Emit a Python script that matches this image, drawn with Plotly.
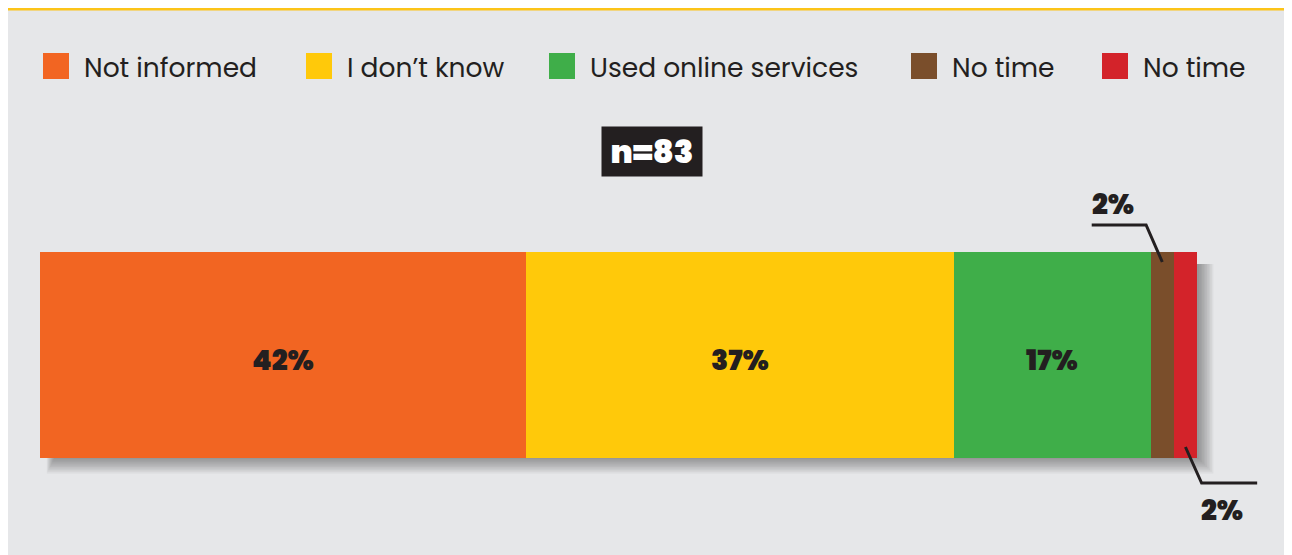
import plotly.graph_objects as go

# Survey answers (share of respondents, %)
categories = ["Not informed", "I don’t know", "Used online services", "No time", "No time"]
values = [42, 37, 17, 2, 2]
colors = ["#f26522", "#ffc90a", "#3fae49", "#7a4e2b", "#d3232a"]
sample_label = "n=83"

# Figure geometry (pixels); the page adds an 8px body margin
BODY = 8
W, H = 1292 - BODY, 555 - BODY
ML, MR, MT, MB = 32, 0, 244, 97
PW, PH = W - ML - MR, H - MT - MB
PX_PER_UNIT = 11.57  # 100 % of the bar = 1157 px

DARK = "#231f20"
BG = "#e6e7e9"
LABEL_FONT = dict(family="Poppins, Roboto, sans-serif", size=28, color=DARK, weight=900)


# helpers: page pixel -> paper coordinate
def px_x(px):
    return (px - BODY - ML) / PW


def px_y(py):
    return (H - MB - (py - BODY)) / PH


fig = go.Figure()

# Stacked horizontal bar, one trace per answer
for cat, val, col in zip(categories, values, colors):
    fig.add_trace(go.Bar(
        x=[val], y=[0], orientation="h", width=1, name=cat,
        marker=dict(color=col, line=dict(width=0)),
        hoverinfo="skip", showlegend=False,
    ))

starts = [sum(values[:i]) for i in range(len(values))]
annotations = []
shapes = []

# percentage labels inside the wide segments
for s, val in zip(starts, values):
    if val >= 5:
        annotations.append(dict(x=s + val / 2, y=0, xref="x", yref="y",
                                text=f"{val}%", showarrow=False, yshift=-5,
                                xanchor="center", yanchor="middle", font=LABEL_FONT))

# yellow frame edge at the top
shapes.append(dict(type="line", xref="paper", yref="paper", layer="below",
                   x0=px_x(BODY), x1=px_x(1300), y0=px_y(BODY + 1), y1=px_y(BODY + 1),
                   line=dict(color="#fcc419", width=3)))

# soft drop shadow under the bar
total = sum(values)
bx0, bx1 = px_x(40), px_x(40 + total * PX_PER_UNIT)
for k in range(10):
    grow = 1.6 * k
    shapes.append(dict(type="rect", xref="paper", yref="paper", layer="below",
                       x0=bx0 + (14 - grow / 2) / PW,
                       x1=bx1 + (2 + grow) / PW,
                       y0=px_y(458 + 1 + grow), y1=px_y(264),
                       fillcolor="rgba(50,50,50,0.055)", line=dict(width=0)))

# callouts for the two small segments
brown_mid = starts[3] + values[3] / 2
red_mid = starts[4] + values[4] / 2
shapes.append(dict(type="path", xref="x", yref="paper",
                   path=f"M {brown_mid},{px_y(262)} L {brown_mid - 1.4},{px_y(225)} L {brown_mid - 6.1},{px_y(225)}",
                   line=dict(color=DARK, width=3)))
shapes.append(dict(type="path", xref="x", yref="paper",
                   path=f"M {red_mid},{px_y(447)} L {red_mid + 1.4},{px_y(483)} L {red_mid + 6.2},{px_y(483)}",
                   line=dict(color=DARK, width=3)))
annotations.append(dict(x=brown_mid - 4.3, y=px_y(204), xref="x", yref="paper",
                        xanchor="center", yanchor="middle",
                        text=f"{values[3]}%", showarrow=False, font=LABEL_FONT))
annotations.append(dict(x=red_mid + 3.2, y=px_y(510), xref="x", yref="paper",
                        xanchor="center", yanchor="middle",
                        text=f"{values[4]}%", showarrow=False, font=LABEL_FONT))

# sample size badge
annotations.append(dict(x=px_x(652), y=px_y(151), xref="paper", yref="paper",
                        xanchor="center", yanchor="middle",
                        text=sample_label, showarrow=False, bgcolor=DARK,
                        width=100, height=49, borderpad=0,
                        font=dict(family="Poppins, Roboto, sans-serif", size=32,
                                  color="white", weight=900)))

# legend drawn by hand (Plotly caps legend symbol size)
legend_x = [43, 306, 549, 911, 1102]
for cat, col, lx in zip(categories, colors, legend_x):
    shapes.append(dict(type="rect", xref="paper", yref="paper",
                       x0=px_x(lx), x1=px_x(lx + 26), y0=px_y(79), y1=px_y(53),
                       fillcolor=col, line=dict(width=0)))
    annotations.append(dict(x=px_x(lx + 39), y=px_y(67), xref="paper", yref="paper",
                            xanchor="left", yanchor="middle", text=cat, showarrow=False,
                            font=dict(family="Poppins, Open Sans, sans-serif", size=26.5,
                                      color=DARK)))

fig.update_layout(
    width=W, height=H,
    margin=dict(l=ML, r=MR, t=MT, b=MB, pad=0),
    barmode="stack", bargap=0,
    paper_bgcolor=BG, plot_bgcolor="rgba(0,0,0,0)",
    xaxis=dict(range=[0, PW / PX_PER_UNIT], visible=False, fixedrange=True),
    yaxis=dict(range=[-0.5, 0.5], visible=False, fixedrange=True),
    shapes=shapes, annotations=annotations,
)

fig.write_html("out.html", config={"displayModeBar": False})
